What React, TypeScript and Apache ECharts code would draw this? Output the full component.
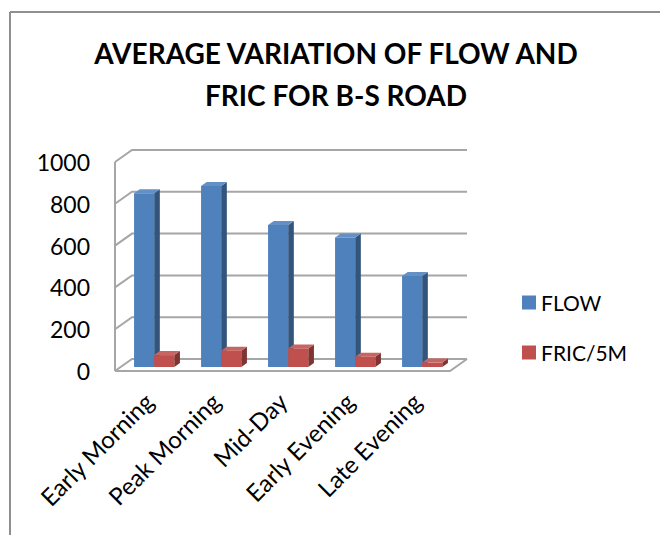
import React, { useEffect, useRef } from "react";
import * as echarts from "echarts";

// Time-of-day periods on the category axis
const CATEGORIES = ["Early Morning", "Peak Morning", "Mid-Day", "Early Evening", "Late Evening"];
// Average traffic flow per period
const FLOW = [831, 866, 680, 620, 436];
// Friction index divided by 5M
const FRIC_5M = [57, 78, 89, 49, 21];
// Value axis ticks
const Y_TICKS = [0, 200, 400, 600, 800, 1000];

// Perspective offset of the back wall relative to the front plane
const DX = 17;
const DY = -12;

const FONT = "Lato, 'Open Sans', sans-serif";

function shade(hex: string, f: number) {
  const n = parseInt(hex.slice(1), 16);
  const ch = (s: number) => {
    const c = (n >> s) & 255;
    const v = f < 0 ? c * (1 + f) : c + (255 - c) * f;
    return Math.max(0, Math.min(255, Math.round(v)));
  };
  return `rgb(${ch(16)},${ch(8)},${ch(0)})`;
}

// Render a 3-D looking column: front face, right side and top
function columnRenderer(color: string, slot: number) {
  return (params: any, api: any) => {
    const idx = api.value(0);
    const val = api.value(1);
    const base = api.coord([idx, 0]);
    const top = api.coord([idx, val]);
    const band = api.size([1, 0])[0];
    const w = band * 0.3;
    // column sits in the middle third of the floor depth
    const ox = DX / 3;
    const oy = DY / 3;
    const dx = DX / 3;
    const dy = DY / 3;
    const x0 = base[0] + ox + (slot === 0 ? -w : 0);
    const x1 = x0 + w;
    const yb = base[1] + oy;
    const yt = top[1] + oy;
    return {
      type: "group",
      children: [
        {
          type: "polygon",
          shape: { points: [[x1, yb], [x1, yt], [x1 + dx, yt + dy], [x1 + dx, yb + dy]] },
          style: { fill: shade(color, -0.35) },
        },
        {
          type: "polygon",
          shape: { points: [[x0, yt], [x1, yt], [x1 + dx, yt + dy], [x0 + dx, yt + dy]] },
          style: { fill: shade(color, 0.12) },
        },
        {
          type: "rect",
          shape: { x: x0, y: yt, width: w, height: yb - yt },
          style: { fill: color },
        },
      ],
    };
  };
}

export default function App() {
  const ref = useRef<HTMLDivElement>(null);

  useEffect(() => {
    if (!ref.current) return;
    const chart = echarts.init(ref.current, null, { renderer: "svg" });

    const wallData = Y_TICKS.map((v) => [0, v]);

    chart.setOption({
      animation: false,
      backgroundColor: "#ffffff",
      grid: { left: 115, right: 210, top: 162, bottom: 164 },
      legend: {
        data: ["FLOW", "FRIC/5M"],
        orient: "vertical",
        left: 517,
        top: 287,
        icon: "rect",
        itemWidth: 14,
        itemHeight: 14,
        itemGap: 29,
        selectedMode: false,
        textStyle: { fontFamily: FONT, fontSize: 21, color: "#000" },
      },
      xAxis: {
        type: "category",
        data: CATEGORIES,
        axisLine: { show: false },
        axisTick: { show: false },
        splitLine: { show: false },
        axisLabel: {
          rotate: 45,
          margin: 26,
          fontFamily: FONT,
          fontSize: 24,
          color: "#000",
          interval: 0,
        },
      },
      yAxis: {
        type: "value",
        min: 0,
        max: 1000,
        interval: 200,
        axisLine: { show: false },
        axisTick: { show: false },
        splitLine: { show: false },
        axisLabel: {
          margin: 25,
          fontFamily: FONT,
          fontSize: 23,
          color: "#000",
          formatter: (v: number) => String(v),
        },
      },
      graphic: [
        {
          type: "line",
          shape: { x1: 10, y1: 12, x2: 660, y2: 12 },
          style: { stroke: "#8f8f8f", lineWidth: 2 },
        },
        {
          type: "line",
          shape: { x1: 10, y1: 12, x2: 10, y2: 535 },
          style: { stroke: "#8f8f8f", lineWidth: 2 },
        },
        {
          type: "text",
          style: {
            text: "AVERAGE VARIATION OF FLOW AND",
            x: 336,
            y: 53,
            textAlign: "center",
            textVerticalAlign: "middle",
            font: `bold 28px ${FONT}`,
            fill: "#000",
          },
        },
        {
          type: "text",
          style: {
            text: "FRIC FOR B-S ROAD",
            x: 336,
            y: 95,
            textAlign: "center",
            textVerticalAlign: "middle",
            font: `bold 28px ${FONT}`,
            fill: "#000",
          },
        },
      ],
      series: [
        {
          name: "walls",
          type: "custom",
          clip: false,
          silent: true,
          z: 1,
          data: wallData,
          renderItem: (params: any, api: any) => {
            const cs = params.coordSys;
            const v = api.value(1);
            const y = api.coord([0, v])[1];
            const xL = cs.x;
            const xR = cs.x + cs.width;
            const stroke = { stroke: "#a6a6a6", lineWidth: 2, fill: "none" };
            const children: any[] = [
              {
                type: "polyline",
                shape: { points: [[xL, y], [xL + DX, y + DY], [xR + DX, y + DY]] },
                style: stroke,
              },
            ];
            if (v === 0) {
              children.push({
                type: "polyline",
                shape: { points: [[xL, y], [xR, y], [xR + DX, y + DY]] },
                style: stroke,
              });
              children.push({
                type: "line",
                shape: { x1: xL, y1: y, x2: xL, y2: cs.y },
                style: stroke,
              });
            }
            return { type: "group", children };
          },
        },
        {
          name: "FLOW",
          type: "custom",
          clip: false,
          z: 2,
          itemStyle: { color: "#4F81BD" },
          data: FLOW.map((v, i) => [i, v]),
          renderItem: columnRenderer("#4F81BD", 0),
        },
        {
          name: "FRIC/5M",
          type: "custom",
          clip: false,
          z: 3,
          itemStyle: { color: "#C0504D" },
          data: FRIC_5M.map((v, i) => [i, v]),
          renderItem: columnRenderer("#C0504D", 1),
        },
      ],
    });

    return () => chart.dispose();
  }, []);

  return (
    <div
      ref={ref}
      style={{ position: "fixed", left: 0, top: 0, width: 660, height: 535 }}
    />
  );
}
